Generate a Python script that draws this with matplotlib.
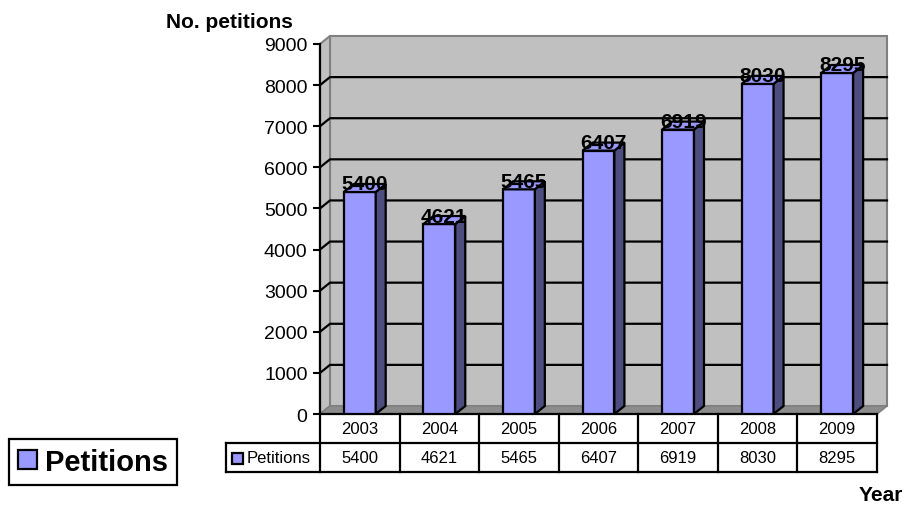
import matplotlib.pyplot as plt
from matplotlib.patches import Polygon, Rectangle, Patch

plt.rcParams["font.family"] = ["Liberation Sans", "DejaVu Sans"]

# data
years = ["2003", "2004", "2005", "2006", "2007", "2008", "2009"]
petitions = [5400, 4621, 5465, 6407, 6919, 8030, 8295]
series_name = "Petitions"

FRONT = "#9999FF"
SIDE = "#4D4D80"
WALL = "#C0C0C0"
WALL_EDGE = "#808080"


def main():
    fig = plt.figure(figsize=(9.05, 5.06), dpi=100)
    # axes box in pixels: x 320..877, y 45..415
    ax = fig.add_axes([320 / 905, 1 - 415 / 506, 557 / 905, 370 / 506])
    n = len(years)
    ymax = 9000
    ax.set_xlim(-0.5, n - 0.5)
    ax.set_ylim(0, ymax)
    ax.patch.set_visible(False)

    # 3d depth offset (10px right, 8px up) in data units
    dx = 10 * n / 557
    dy = 8 * ymax / 370
    x0, x1 = -0.5, n - 0.5

    # walls and floor
    ax.add_patch(Rectangle((x0 + dx, dy), n, ymax, facecolor=WALL,
                           edgecolor=WALL_EDGE, lw=1.5, clip_on=False, zorder=0))
    ax.add_patch(Polygon([(x0, 0), (x0, ymax), (x0 + dx, ymax + dy), (x0 + dx, dy)],
                         facecolor=WALL, edgecolor=WALL_EDGE, lw=1.5,
                         clip_on=False, zorder=0))
    ax.add_patch(Polygon([(x0, 0), (x1, 0), (x1 + dx, dy), (x0 + dx, dy)],
                         facecolor="#8c8c8c", edgecolor=WALL_EDGE, lw=1.2,
                         clip_on=False, zorder=0.5))

    # gridlines on back wall
    for v in range(1000, ymax, 1000):
        ax.plot([x0, x0 + dx, x1 + dx], [v, v + dy, v + dy], color="black",
                lw=1.6, clip_on=False, zorder=1)

    # bars
    w = 0.4
    xs = list(range(n))
    ax.bar(xs, petitions, width=w, color=FRONT, edgecolor="black", lw=1.6, zorder=3)
    for x, v in zip(xs, petitions):
        r = x + w / 2
        l = x - w / 2
        ax.add_patch(Polygon([(r, 0), (r, v), (r + dx, v + dy), (r + dx, dy)],
                             facecolor=SIDE, edgecolor="black", lw=1.6,
                             clip_on=False, zorder=3))
        ax.add_patch(Polygon([(l, v), (r, v), (r + dx, v + dy), (l + dx, v + dy)],
                             facecolor=FRONT, edgecolor="black", lw=1.6,
                             clip_on=False, zorder=3))
        ax.text(x + dx / 2, v + dy, str(v), ha="center", va="center",
                fontsize=15, fontweight="bold", zorder=5)

    # axis
    for s in ["top", "right", "bottom"]:
        ax.spines[s].set_visible(False)
    ax.spines["left"].set_linewidth(1.6)
    ax.spines["left"].set_zorder(4)
    ax.set_xticks([])
    ax.set_yticks(range(0, ymax + 1, 1000))
    ax.tick_params(axis="y", labelsize=14, length=5, width=1.5, pad=4)

    # data table
    tr = ax.get_xaxis_transform()
    row1 = -29 / 370
    row2 = -58 / 370
    left = -94 / 557
    lw = 1.6
    ax.plot([0, 1], [0, 0], transform=ax.transAxes, color="black", lw=lw, clip_on=False)
    ax.plot([left, 1], [row1, row1], transform=ax.transAxes, color="black", lw=lw, clip_on=False)
    ax.plot([left, 1], [row2, row2], transform=ax.transAxes, color="black", lw=lw, clip_on=False)
    ax.plot([left, left], [row1, row2], transform=ax.transAxes, color="black", lw=lw, clip_on=False)
    for i in range(n + 1):
        ax.plot([i - 0.5, i - 0.5], [0, row2], transform=tr, color="black", lw=lw, clip_on=False)
    for i, (yr, v) in enumerate(zip(years, petitions)):
        ax.text(i, row1 / 2, yr, transform=tr, ha="center", va="center", fontsize=12)
        ax.text(i, (row1 + row2) / 2, str(v), transform=tr, ha="center", va="center", fontsize=12)
    ax.add_patch(Rectangle((-88 / 557, (row1 + row2) / 2 - 6 / 370), 11 / 557, 11 / 370,
                           transform=ax.transAxes, facecolor=FRONT, edgecolor="black",
                           lw=1.6, clip_on=False))
    ax.text(-73 / 557, (row1 + row2) / 2, series_name, transform=ax.transAxes,
            ha="left", va="center", fontsize=12)

    # titles
    fig.text(229 / 905, 1 - 23 / 506, "No. petitions", ha="center", va="center",
             fontsize=15, fontweight="bold")
    fig.text(881 / 905, 1 - 496 / 506, "Year", ha="center", va="center",
             fontsize=15, fontweight="bold")

    # legend
    leg = fig.legend(handles=[Patch(facecolor=FRONT, edgecolor="black", lw=1.6)],
                     labels=[series_name], loc="center",
                     bbox_to_anchor=(93 / 905, 1 - 463 / 506),
                     prop={"size": 21, "weight": "bold"}, fancybox=False,
                     handlelength=0.65, handleheight=0.65, handletextpad=0.3,
                     borderpad=0.3, borderaxespad=0, edgecolor="black", framealpha=1)
    leg.get_frame().set_linewidth(1.6)

    fig.savefig("out.png", dpi=100)


if __name__ == "__main__":
    main()
